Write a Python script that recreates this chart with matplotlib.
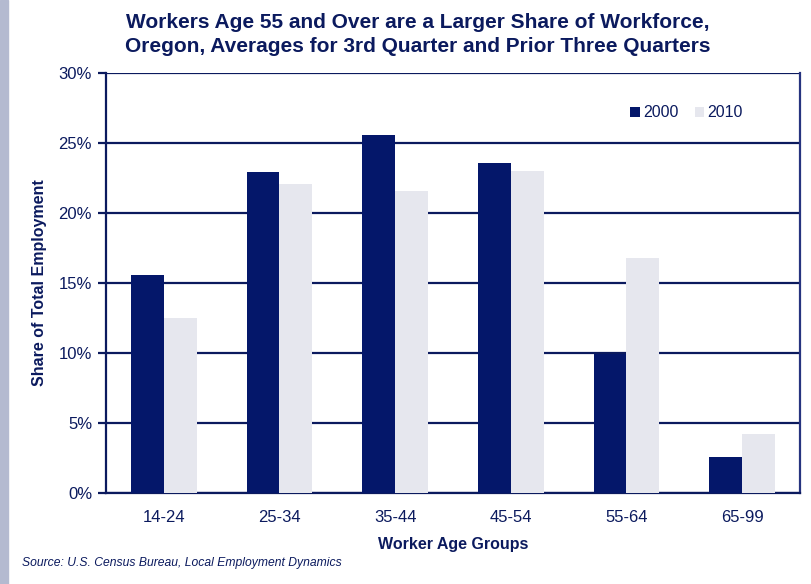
import numpy as np
import matplotlib.pyplot as plt
from matplotlib.patches import Rectangle

# Datos
grupos = ["14-24", "25-34", "35-44", "45-54", "55-64", "65-99"]
share_2000 = [15.6, 22.9, 25.6, 23.6, 9.9, 2.6]
share_2010 = [12.5, 22.1, 21.6, 23.0, 16.8, 4.2]
yticks = [0, 5, 10, 15, 20, 25, 30]

navy = "#0B1A5E"
dark = "#04176A"
light = "#E6E7EE"

plt.rcParams["font.family"] = ["Liberation Sans", "DejaVu Sans"]

fig = plt.figure(figsize=(8.11, 5.84), dpi=100)
ax = fig.add_axes([0.1307, 0.1558, 0.8557, 0.7192])

# franja lateral izquierda
fig.patches.append(Rectangle((0, 0), 8 / 811, 1, transform=fig.transFigure,
                             color="#B4BAD0", zorder=0))

x = np.arange(len(grupos))
w = 0.285
ax.bar(x - w / 2, share_2000, w, color=dark, label="2000", zorder=3)
ax.bar(x + w / 2, share_2010, w, color=light, label="2010", zorder=3)

ax.set_xlim(-0.5, len(grupos) - 0.5)
ax.set_ylim(0, 30)
ax.set_yticks(yticks)
ax.set_yticklabels([f"{t}%" for t in yticks])
ax.set_xticks(x)
ax.set_xticklabels(grupos)

ax.yaxis.grid(True, color=navy, linewidth=1.6, zorder=1)
ax.set_axisbelow(True)
ax.spines["top"].set_visible(False)
for s in ["left", "bottom", "right"]:
    ax.spines[s].set_color(navy)
    ax.spines[s].set_linewidth(1.6)
ax.spines["right"].set_color("#26337F")

ax.tick_params(axis="y", colors=navy, labelcolor=navy, labelsize=12,
               length=6, width=1.6, direction="out", pad=4)
ax.tick_params(axis="x", length=0, labelcolor=navy, labelsize=12, pad=12)

ax.set_ylabel("Share of Total Employment", fontsize=11.5, fontweight="bold",
              color=navy, labelpad=8)
ax.set_xlabel("Worker Age Groups", fontsize=11.5, fontweight="bold",
              color=navy, labelpad=9)

fig.text(0.515, 0.978, "Workers Age 55 and Over are a Larger Share of Workforce,\n"
         "Oregon, Averages for 3rd Quarter and Prior Three Quarters",
         ha="center", va="top", fontsize=15, fontweight="bold", color=navy,
         linespacing=1.35)

fig.text(0.027, 0.036, "Source: U.S. Census Bureau, Local Employment Dynamics",
         fontsize=8.7, style="italic", color=navy, va="center")

leg = ax.legend(loc="center left", bbox_to_anchor=(0.735, 0.905), ncol=2,
                frameon=False, fontsize=11.5, handlelength=0.6, handleheight=0.6,
                handletextpad=0.2, columnspacing=1.0)
for t in leg.get_texts():
    t.set_color(navy)

fig.savefig("out.png", dpi=100)
